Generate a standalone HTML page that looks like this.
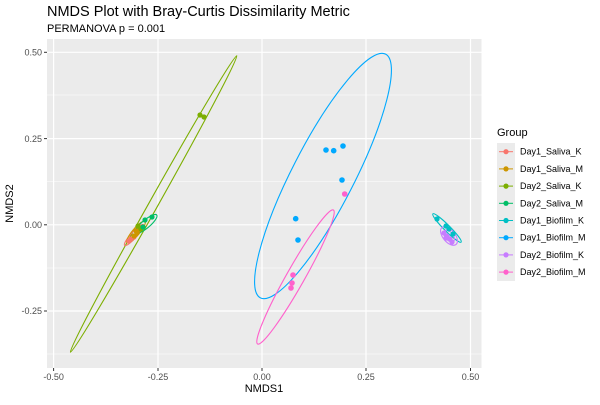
<!DOCTYPE html>
<html><head><meta charset="utf-8"><style>
body{margin:0;background:#fff;width:600px;height:400px;overflow:hidden}
svg{font-family:"Liberation Sans","DejaVu Sans",sans-serif}
</style></head><body>
<svg width="600" height="400" xmlns="http://www.w3.org/2000/svg">
<rect width="600" height="400" fill="#fff"/>
<text x="47" y="16" font-size="14.5" fill="#000">NMDS Plot with Bray-Curtis Dissimilarity Metric</text>
<text x="47" y="32" font-size="11" fill="#000">PERMANOVA p = 0.001</text>
<rect x="47" y="39" width="434.5" height="329" fill="#ebebeb"/>
<g stroke="#fff" stroke-width="0.6">
<line x1="158" y1="39" x2="158" y2="368"/><line x1="366" y1="39" x2="366" y2="368"/>
<line x1="47" y1="95" x2="481.5" y2="95"/><line x1="47" y1="181.5" x2="481.5" y2="181.5"/>
<line x1="47" y1="268" x2="481.5" y2="268"/><line x1="47" y1="354" x2="481.5" y2="354"/>
</g>
<g stroke="#fff" stroke-width="1.2">
<line x1="53.6" y1="39" x2="53.6" y2="368"/><line x1="262" y1="39" x2="262" y2="368"/><line x1="470.5" y1="39" x2="470.5" y2="368"/>
<line x1="47" y1="52.3" x2="481.5" y2="52.3"/><line x1="47" y1="138.6" x2="481.5" y2="138.6"/>
<line x1="47" y1="224.8" x2="481.5" y2="224.8"/><line x1="47" y1="311" x2="481.5" y2="311"/>
<line x1="158" y1="39" x2="158" y2="368"/><line x1="366" y1="39" x2="366" y2="368"/>
</g>
<g fill="none" stroke-width="1.1">
<ellipse cx="153.6" cy="204" rx="170" ry="4.5" transform="rotate(-60.7 153.6 204)" stroke="#7CAE00"/>
<ellipse cx="323" cy="176" rx="137" ry="31" transform="rotate(-62.8 323 176)" stroke="#00A9FF"/>
<ellipse cx="295.5" cy="277" rx="77" ry="9" transform="rotate(-60.5 295.5 277)" stroke="#FF61CC"/>
<ellipse cx="447" cy="228" rx="20" ry="3" transform="rotate(45 447 228)" stroke="#00BFC4"/>
<ellipse cx="449" cy="236" rx="11" ry="6" transform="rotate(50 449 236)" stroke="#C77CFF"/>
<ellipse cx="449" cy="236" rx="7" ry="4" transform="rotate(50 449 236)" stroke="#C77CFF"/>
<ellipse cx="134" cy="235" rx="14" ry="3" transform="rotate(-48 134 235)" stroke="#F8766D"/>
<ellipse cx="136" cy="232" rx="14" ry="3.5" transform="rotate(-50 136 232)" stroke="#CD9600"/>
<ellipse cx="146" cy="224" rx="14" ry="4" transform="rotate(-40 146 224)" stroke="#00BE67"/>
</g>
<g>
<circle cx="200" cy="115" r="2.6" fill="#7CAE00"/><circle cx="204" cy="117" r="2.6" fill="#7CAE00"/>
<circle cx="129" cy="241" r="2.6" fill="#F8766D"/><circle cx="131" cy="239" r="2.6" fill="#F8766D"/><circle cx="134" cy="237" r="2.6" fill="#F8766D"/>
<circle cx="134" cy="236" r="2.6" fill="#CD9600"/><circle cx="137" cy="233" r="2.6" fill="#CD9600"/><circle cx="139" cy="230" r="2.6" fill="#CD9600"/><circle cx="136" cy="231" r="2.6" fill="#CD9600"/>
<circle cx="138" cy="226" r="2.6" fill="#7CAE00"/><circle cx="141" cy="229" r="2.6" fill="#7CAE00"/>
<circle cx="145" cy="220" r="2.6" fill="#00BE67"/><circle cx="152" cy="217" r="2.6" fill="#00BE67"/><circle cx="143" cy="227" r="2.6" fill="#00BE67"/>
<circle cx="437" cy="219" r="2.6" fill="#00BFC4"/><circle cx="446" cy="226" r="2.6" fill="#00BFC4"/><circle cx="453" cy="234" r="2.6" fill="#00BFC4"/><circle cx="449" cy="229" r="2.6" fill="#00BFC4"/>
<circle cx="444" cy="233" r="2.6" fill="#C77CFF"/><circle cx="447" cy="236" r="2.6" fill="#C77CFF"/><circle cx="450" cy="239" r="2.6" fill="#C77CFF"/><circle cx="452" cy="242" r="2.6" fill="#C77CFF"/><circle cx="446" cy="238" r="2.6" fill="#C77CFF"/>
<circle cx="326" cy="150" r="2.8" fill="#00A9FF"/><circle cx="333.7" cy="150.7" r="2.8" fill="#00A9FF"/><circle cx="343" cy="146" r="2.8" fill="#00A9FF"/><circle cx="342" cy="180" r="2.8" fill="#00A9FF"/><circle cx="295.7" cy="218.7" r="2.8" fill="#00A9FF"/><circle cx="298" cy="240" r="2.8" fill="#00A9FF"/>
<circle cx="344.7" cy="194" r="2.8" fill="#FF61CC"/><circle cx="293" cy="275" r="2.8" fill="#FF61CC"/><circle cx="292" cy="283" r="2.8" fill="#FF61CC"/><circle cx="291" cy="288" r="2.8" fill="#FF61CC"/>
</g>
<g stroke="#333" stroke-width="1">
<line x1="44" y1="52.3" x2="47" y2="52.3"/><line x1="44" y1="138.6" x2="47" y2="138.6"/><line x1="44" y1="224.8" x2="47" y2="224.8"/><line x1="44" y1="311" x2="47" y2="311"/>
<line x1="53.6" y1="368" x2="53.6" y2="371"/><line x1="158" y1="368" x2="158" y2="371"/><line x1="262" y1="368" x2="262" y2="371"/><line x1="366" y1="368" x2="366" y2="371"/><line x1="470.5" y1="368" x2="470.5" y2="371"/>
</g>
<g font-size="9" fill="#4d4d4d" text-anchor="end">
<text x="42" y="55.5">0.50</text><text x="42" y="141.8">0.25</text><text x="42" y="228">0.00</text><text x="42" y="314.2">-0.25</text>
</g>
<g font-size="9" fill="#4d4d4d" text-anchor="middle">
<text x="53.6" y="380">-0.50</text><text x="158" y="380">-0.25</text><text x="262" y="380">0.00</text><text x="366" y="380">0.25</text><text x="470.5" y="380">0.50</text>
</g>
<text x="264" y="392" font-size="11" text-anchor="middle">NMDS1</text>
<text transform="translate(13 203.5) rotate(-90)" font-size="11" text-anchor="middle">NMDS2</text>
<text x="497" y="136" font-size="11">Group</text>
<rect x="497" y="143" width="18" height="138" fill="#ebebeb"/>
<g font-size="9" fill="#000">
<g transform="translate(0 151.7)"><line x1="499" x2="513" stroke="#F8766D"/><circle cx="506" r="2.6" fill="#F8766D"/><text x="520" y="3">Day1_Saliva_K</text></g>
<g transform="translate(0 168.9)"><line x1="499" x2="513" stroke="#CD9600"/><circle cx="506" r="2.6" fill="#CD9600"/><text x="520" y="3">Day1_Saliva_M</text></g>
<g transform="translate(0 186.1)"><line x1="499" x2="513" stroke="#7CAE00"/><circle cx="506" r="2.6" fill="#7CAE00"/><text x="520" y="3">Day2_Saliva_K</text></g>
<g transform="translate(0 203.3)"><line x1="499" x2="513" stroke="#00BE67"/><circle cx="506" r="2.6" fill="#00BE67"/><text x="520" y="3">Day2_Saliva_M</text></g>
<g transform="translate(0 220.5)"><line x1="499" x2="513" stroke="#00BFC4"/><circle cx="506" r="2.6" fill="#00BFC4"/><text x="520" y="3">Day1_Biofilm_K</text></g>
<g transform="translate(0 237.7)"><line x1="499" x2="513" stroke="#00A9FF"/><circle cx="506" r="2.6" fill="#00A9FF"/><text x="520" y="3">Day1_Biofilm_M</text></g>
<g transform="translate(0 254.9)"><line x1="499" x2="513" stroke="#C77CFF"/><circle cx="506" r="2.6" fill="#C77CFF"/><text x="520" y="3">Day2_Biofilm_K</text></g>
<g transform="translate(0 272.1)"><line x1="499" x2="513" stroke="#FF61CC"/><circle cx="506" r="2.6" fill="#FF61CC"/><text x="520" y="3">Day2_Biofilm_M</text></g>
</g>
</svg>
</body></html>
